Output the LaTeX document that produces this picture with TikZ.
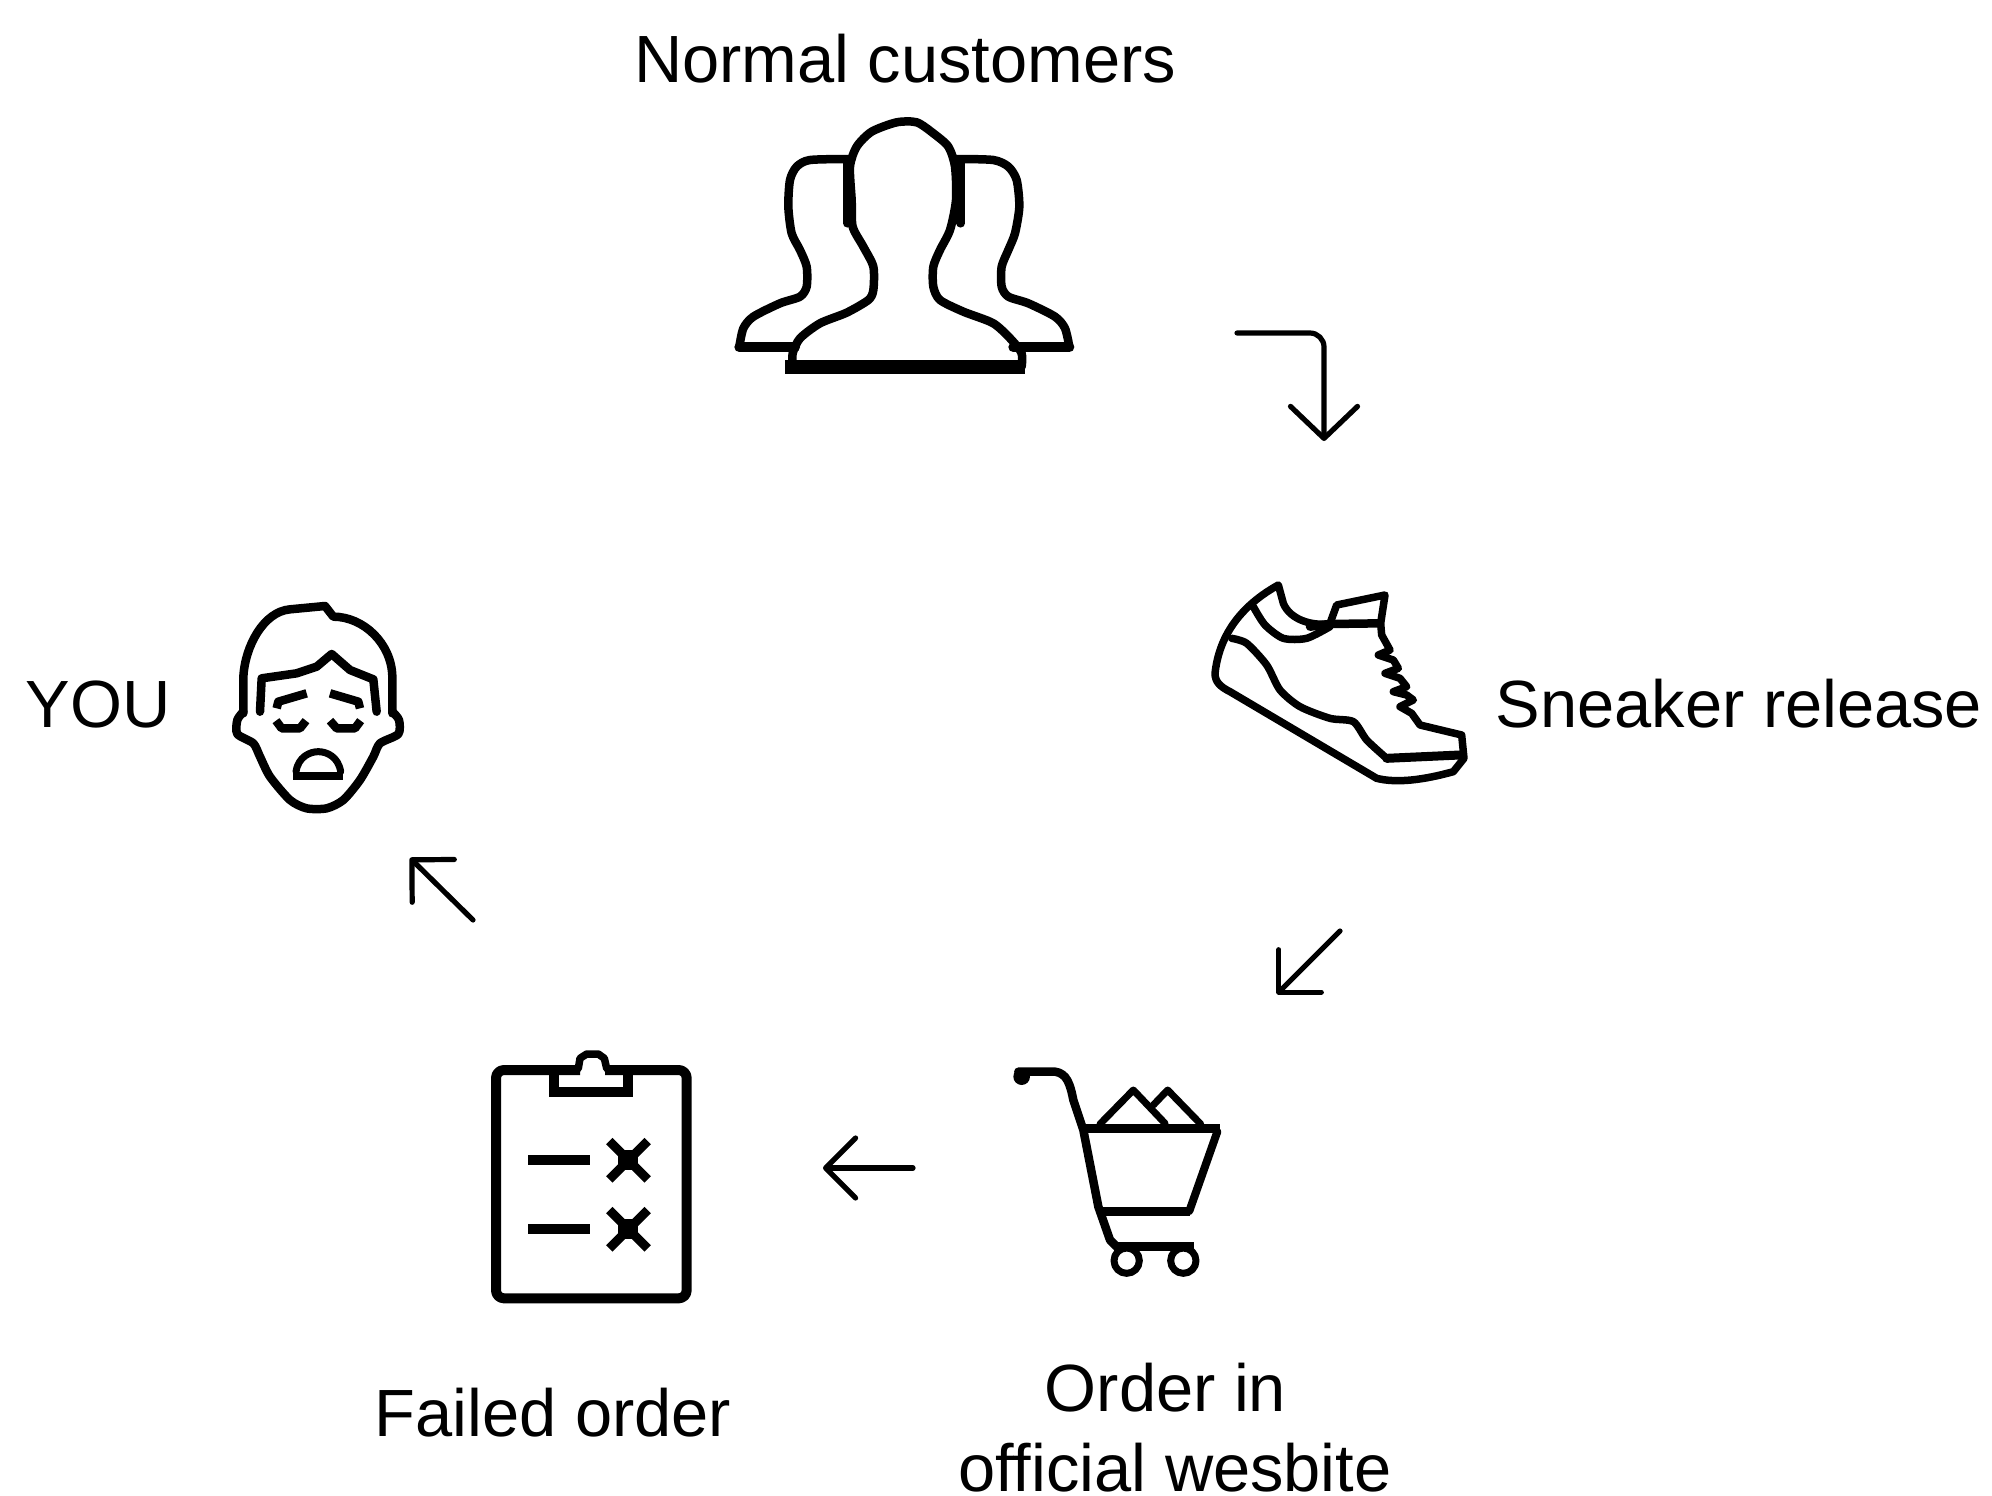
\documentclass[tikz,border=0pt]{standalone}
\usepackage{fontspec}
\setmainfont{Liberation Sans}
\usetikzlibrary{arrows.meta}
\tikzset{
  x=1pt,y=-1pt,
  lbl/.style={inner sep=0pt,outer sep=0pt,anchor=base,font=\fontsize{66.8}{79}\selectfont,text=black},
  ic/.style={line width=8.5pt,line cap=round,line join=round,black},
  flow/.style={line width=5.2pt,line cap=round,line join=round,black,
    -{Straight Barb[length=30pt,width=60pt,line width=5.2pt,round]}},
  flowlarge/.style={line width=5.2pt,line cap=round,line join=round,black,rounded corners=14pt,
    -{Straight Barb[length=32pt,width=67pt,line width=5.2pt,round]}},
  zoomed/.style={shift={(#1)},x=0.33333pt,y=-0.33333pt},
}
\newcommand{\sm}[1]{plot[smooth,tension=.45] coordinates {#1}}
\begin{document}
\begin{tikzpicture}
\useasboundingbox (0,0) rectangle (1992,1496);
\fill[white] (0,0) rectangle (1992,1496);
% labels
\node[lbl] (normal) at (905,82) {Normal customers};
\node[lbl] (sneaker) at (1739,727.5) {Sneaker release};
\node[lbl] (you) at (98,727) {YOU};
\node[lbl] (failed) at (553,1436) {Failed order};
\node[lbl] (order1) at (1165.5,1411) {Order in};
\node[lbl] (order2) at (1175,1491) {official wesbite};
% people
\begin{scope}[zoomed={700,90}]
\draw[ic] \sm{(278,830) (278,790) (300,745) (360,700) (440,668) (505,630) (520,600) (520,530) (490,470) (458,410) (455,330) (450,230) (470,170) (515,125) (590,97) (650,97) (700,130) (745,170) (765,230) (768,330) (750,420) (720,480) (700,530) (700,590) (720,630) (790,665) (880,700) (935,750) (965,790) (965,830)};
\draw[ic,line width=14pt,line cap=butt] (255,830) -- (975,830);
\draw[ic] \sm{(450,207) (330,210) (290,230) (270,270) (265,350) (275,430) (300,480) (320,530) (320,590) (300,620) (240,640) (160,680) (130,715) (118,770)};
\draw[ic,line width=10pt] (118,772) -- (285,772);
\draw[ic] (442,220) -- (442,400);
\draw[ic] (782,220) -- (782,400);
\draw[ic] \sm{(770,207) (880,210) (925,230) (950,270) (958,350) (945,430) (925,480) (905,530) (905,590) (925,620) (985,640) (1065,680) (1095,715) (1108,770)};
\draw[ic,line width=10pt] (1108,772) -- (940,772);
\end{scope}
% shoe
\begin{scope}[zoomed={1190,310}]
\draw[ic,line width=7.5pt] (75,1090) .. controls (85,1000) and (130,900) .. (265,825) -- (280,880) .. controls (300,930) and (370,950) .. (420,940) -- (440,885) -- (585,855) -- (572,940) -- (575,975) -- (600,1020) -- (565,1035) -- (610,1050) -- (625,1075) -- (585,1090) -- (630,1105) -- (650,1130) -- (610,1145) -- (650,1155) -- (670,1170) -- (630,1190) -- (665,1210) -- (690,1245) -- (815,1275) -- (822,1345) -- (790,1385) .. controls (700,1410) and (620,1420) .. (560,1405) -- (120,1145) .. controls (90,1130) and (75,1115) .. (75,1090) -- cycle;
\draw[ic,line width=7.5pt] \sm{(125,985) (170,1000) (230,1065) (270,1140) (330,1190) (420,1225) (490,1235) (530,1290) (590,1345)};
\draw[ic,line width=9pt] (590,1345) -- (810,1335);
\draw[ic,line width=7.5pt] \sm{(190,890) (225,945) (280,985) (350,985) (420,950)};
\draw[ic,line width=8.5pt] (360,950) -- (420,942) -- (570,940);
\end{scope}
% face
\begin{scope}[zoomed={210,580}]
\draw[ic] (100,400) -- (100,290) .. controls (105,200) and (160,95) .. (240,88) -- (345,78) -- (370,110) .. controls (460,110) and (545,190) .. (547,290) -- (547,400);
\draw[ic] \sm{(100,395) (82,420) (82,462) (130,490) (150,530) (180,590) (240,660) (290,685) (350,685) (400,660) (450,600) (490,530) (510,490) (565,462) (567,420) (547,395)};
\draw[ic] (150,395) -- (155,295) -- (260,280) -- (320,260) -- (365,222) -- (420,270) -- (490,298) -- (500,395);
\draw[ic,line cap=butt] (200,385) -- (205,365) -- (290,340);
\draw[ic,line cap=butt] (360,340) -- (445,365) -- (450,385);
\draw[ic,line cap=butt] (198,422) -- (215,445) -- (270,445) -- (288,422);
\draw[ic,line cap=butt] (360,422) -- (380,445) -- (435,445) -- (452,422);
\draw[ic,line width=8pt,line cap=butt] (250,588) -- (400,588);
\draw[ic,line width=7pt] (258,575) .. controls (265,530) and (300,515) .. (325,515) .. controls (350,515) and (385,530) .. (392,575);
\end{scope}
% clipboard
\begin{scope}[zoomed={470,1030}]
\draw[ic,line width=10pt,rounded corners=8pt,line cap=butt] (330,120) -- (78,120) -- (78,805) -- (650,805) -- (650,120) -- (405,120);
\draw[ic,line width=10pt,line cap=butt,line join=miter] (253,125) -- (253,185) -- (475,185) -- (475,125);
\draw[ic,line width=7.5pt] (325,115) -- (330,85) -- (350,72) -- (385,72) -- (403,85) -- (410,115);
\draw[ic,line width=10pt,line cap=butt] (175,390) -- (360,390);
\draw[ic,line width=10pt,line cap=butt] (175,597) -- (360,597);
\draw[ic,line width=9pt,line cap=butt] (418,333) -- (533,448) (533,333) -- (418,448);
\draw[ic,line width=9pt,line cap=butt] (418,540) -- (533,655) (533,540) -- (418,655);
\fill (445,360) rectangle (505,420);
\fill (445,567) rectangle (505,627);
\end{scope}
% cart
\begin{scope}[zoomed={990,1050}]
\draw[ic] (85,65) -- (195,65) .. controls (230,70) and (240,100) .. (250,150) -- (280,240) -- (325,470) -- (360,570) -- (380,590);
\fill (95,80) circle (25);
\draw[ic,line width=9pt,line cap=butt] (270,235) -- (690,235);
\draw[ic,line width=8pt] (682,245) -- (598,483);
\draw[ic,line width=9pt,line cap=butt] (335,483) -- (600,483);
\draw[ic,line width=9pt,line cap=butt] (372,590) -- (612,590);
\draw[ic,line width=7pt] (410,632) circle (38);
\draw[ic,line width=7pt] (580,632) circle (38);
\draw[ic,line width=7pt] (330,222) -- (430,120) -- (525,220);
\draw[ic,line width=7pt] (490,165) -- (533,120) -- (632,222);
\end{scope}
% connectors
\coordinate (a1s) at (1237,333);
\coordinate (a1c) at (1324,333);
\coordinate (a1e) at (1324,441);
\coordinate (a2s) at (1340,931);
\coordinate (a2e) at (1277,994);
\coordinate (a3s) at (913,1168);
\coordinate (a3e) at (823,1168);
\coordinate (a4s) at (473,920);
\coordinate (a4e) at (410,858);
\draw[flowlarge] (a1s) -- (a1c) -- (a1e);
\draw[flow] (a2s) -- (a2e);
\draw[flow] (a3s) -- (a3e);
\draw[flow] (a4s) -- (a4e);
\end{tikzpicture}
\end{document}
